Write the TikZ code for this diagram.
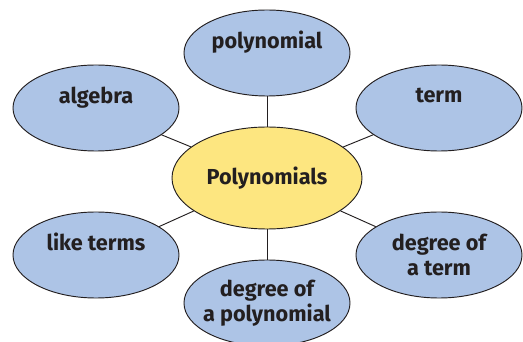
\documentclass[tikz,border=0pt]{standalone}
\usepackage{fontspec}
\setsansfont{Fira Sans}
\usetikzlibrary{shapes.geometric}
\definecolor{bubbleblue}{RGB}{173,196,230}
\definecolor{bubbleyellow}{RGB}{253,230,128}
\definecolor{inkgray}{RGB}{35,31,32}
\tikzset{
  bubble/.style={ellipse, draw=inkgray, line width=0.8pt, fill=bubbleblue,
    minimum width=4.98cm, minimum height=2.58cm, inner xsep=-1.4cm, inner ysep=0pt,
    align=center, text=inkgray, font=\sffamily\bfseries\fontsize{18.5}{21}\selectfont},
  hub/.style={bubble, fill=bubbleyellow, minimum width=5.7cm, minimum height=3.06cm},
  link/.style={draw=inkgray, line width=0.8pt}
}
\begin{document}
\begin{tikzpicture}[x=0.03cm,y=-0.03cm]
    \useasboundingbox (0,0) rectangle (523,342);

    % centre and the six words round it
    \node[hub] (polys) at (267,178) {Polynomials};
    \node[bubble] (polynomial) at (267,53) {polynomial\\[-5pt] \strut};
    \node[bubble] (algebra) at (96,108) {algebra\\[-5pt] \strut};
    \node[bubble] (term) at (439,108) {term\\[-5pt] \strut};
    \node[bubble] (liketerms) at (96,255) {like terms\\[-5pt] \strut};
    \node[bubble] (degterm) at (439,255) {degree of\\ a term};
    \node[bubble] (degpoly) at (267,303) {degree of\\ a polynomial};

    % spokes
    \foreach \outer in {polynomial,algebra,term,liketerms,degterm,degpoly}
        \draw[link] (polys) -- (\outer);

\end{tikzpicture}
\end{document}
